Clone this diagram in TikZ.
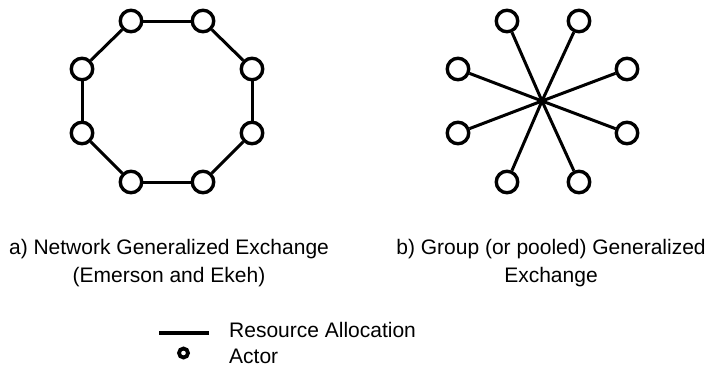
\documentclass[tikz,border=0pt]{standalone}
\usepackage{fontspec}
\setmainfont{Liberation Sans}
\usepackage{tikz}
\usetikzlibrary{backgrounds}
\tikzstyle{simple}=[-,line width=3.0]
\pgfdeclarelayer{edgelayer}
\pgfdeclarelayer{nodelayer}
\pgfsetlayers{edgelayer,nodelayer,main}
\tikzstyle{none}=[inner sep=0pt]
\tikzstyle{actor}=[circle,fill=white,draw=black,line width=3.4,inner sep=0pt,minimum size=21.5]
\tikzstyle{smallactor}=[circle,fill=white,draw=black,line width=3.8,inner sep=0pt,minimum size=9]
\tikzstyle{caption}=[inner sep=0pt,align=center,font=\fontsize{21}{28}\selectfont]
\tikzstyle{legendtext}=[inner sep=0pt,anchor=base west,font=\fontsize{21}{28}\selectfont]

\begin{document}
\begin{tikzpicture}[x=10pt,y=10pt]
	\useasboundingbox (0,0) rectangle (71.1,-36.7);
	\begin{pgfonlayer}{nodelayer}
		% a) ring
		\node [style=actor] (a1) at (13.1, -2.1) {};
		\node [style=actor] (a2) at (20.3, -2.1) {};
		\node [style=actor] (a3) at (25.2, -6.9) {};
		\node [style=actor] (a4) at (25.2, -13.3) {};
		\node [style=actor] (a5) at (20.3, -18.2) {};
		\node [style=actor] (a6) at (13.1, -18.2) {};
		\node [style=actor] (a7) at (8.2, -13.3) {};
		\node [style=actor] (a8) at (8.2, -6.9) {};
		% b) star
		\node [style=none] (hub) at (54.2, -10.1) {};
		\node [style=actor] (b1) at (50.7, -2.1) {};
		\node [style=actor] (b2) at (57.9, -2.1) {};
		\node [style=actor] (b3) at (62.7, -6.9) {};
		\node [style=actor] (b4) at (62.7, -13.3) {};
		\node [style=actor] (b5) at (57.9, -18.2) {};
		\node [style=actor] (b6) at (50.7, -18.2) {};
		\node [style=actor] (b7) at (45.8, -13.3) {};
		\node [style=actor] (b8) at (45.8, -6.9) {};
		% captions
		\node [style=caption, anchor=base] (capa) at (16.9, -28.2) {a) Network Generalized Exchange\\(Emerson and Ekeh)};
		\node [style=caption, anchor=base] (capb) at (55.1, -28.2) {b) Group (or pooled) Generalized\\Exchange};
		% legend
		\node [style=none] (LL) at (15.9, -33.3) {};
		\node [style=none] (LR) at (20.9, -33.3) {};
		\node [style=smallactor] (la) at (18.35, -35.3) {};
		\node [style=legendtext] (lres) at (22.9, -33.7) {Resource Allocation};
		\node [style=legendtext] (lact) at (22.9, -36.3) {Actor};
	\end{pgfonlayer}
	\begin{pgfonlayer}{edgelayer}
		\draw [style=simple] (a1) to (a2);
		\draw [style=simple] (a2) to (a3);
		\draw [style=simple] (a3) to (a4);
		\draw [style=simple] (a4) to (a5);
		\draw [style=simple] (a5) to (a6);
		\draw [style=simple] (a6) to (a7);
		\draw [style=simple] (a7) to (a8);
		\draw [style=simple] (a8) to (a1);
		\draw [style=simple] (hub.center) to (b1);
		\draw [style=simple] (hub.center) to (b2);
		\draw [style=simple] (hub.center) to (b3);
		\draw [style=simple] (hub.center) to (b4);
		\draw [style=simple] (hub.center) to (b5);
		\draw [style=simple] (hub.center) to (b6);
		\draw [style=simple] (hub.center) to (b7);
		\draw [style=simple] (hub.center) to (b8);
		\draw [style=simple, line width=3.8] (LL.center) to (LR.center);
	\end{pgfonlayer}
\end{tikzpicture}
\end{document}
